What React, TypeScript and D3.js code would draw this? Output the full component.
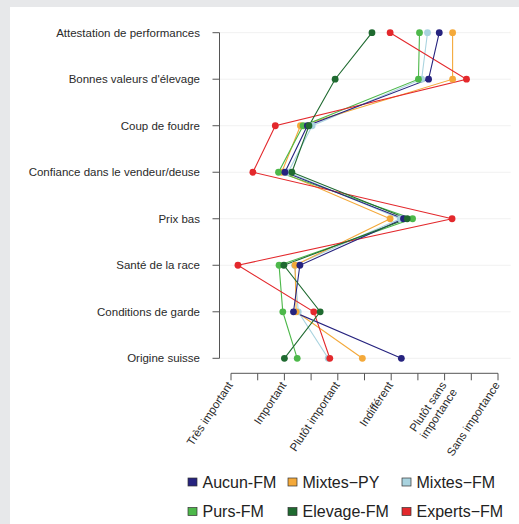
import React from "react";
import * as d3 from "d3";

const categories = [
  "Attestation de performances",
  "Bonnes valeurs d'élevage",
  "Coup de foudre",
  "Confiance dans le vendeur/deuse",
  "Prix bas",
  "Santé de la race",
  "Conditions de garde",
  "Origine suisse",
];

const scaleLabels = [
  ["Très important"],
  ["Important"],
  ["Plutôt important"],
  ["Indifférent"],
  ["Plutôt sans", "importance"],
  ["Sans importance"],
];
const scaleValues = [1, 2, 3, 4, 5, 6];
const tickValues = [1, 1.5, 2, 2.5, 3, 3.5, 4, 4.5, 5, 5.5, 6];

const aucunFM = [4.9, 4.7, 2.43, 2.01, 4.23, 2.29, 2.17, 4.19];
const mixtesPY = [5.15, 5.15, 2.3, 1.95, 3.98, 2.2, 2.22, 3.46];
const mixtesFM = [4.68, 4.57, 2.52, 2.07, 4.17, 2.19, 2.26, 2.82];
const pursFM = [4.53, 4.51, 2.35, 1.89, 4.4, 1.9, 1.97, 2.24];
const elevageFM = [3.64, 2.95, 2.46, 2.14, 4.3, 1.99, 2.67, 2.0];
const expertsFM = [3.98, 5.41, 1.83, 1.41, 5.14, 1.13, 2.55, 2.85];

const seriesNames = ["Aucun-FM", "Mixtes−PY", "Mixtes−FM", "Purs-FM", "Elevage-FM", "Experts−FM"];
const seriesColors = ["#26237f", "#f4a93a", "#a9d3df", "#4db84a", "#1f6a30", "#e3282c"];
const seriesValues = [aucunFM, mixtesPY, mixtesFM, pursFM, elevageFM, expertsFM];
const drawOrder = [2, 1, 3, 5, 0, 4];

export default function App() {
  const W = 519;
  const H = 524;
  const x = d3.scaleLinear().domain([1, 6]).range([231, 498]);
  const y = d3.scalePoint<string>().domain(categories).range([32.7, 358.3]);
  const axisX = 219.5;
  const axisY = 373.3;
  const line = d3
    .line<number>()
    .x((d) => x(d))
    .y((_, i) => y(categories[i]) as number);

  const legendCols = [188, 288, 402];
  const legendRows = [482, 511.5];

  return (
    <svg
      width={W}
      height={H}
      style={{ position: "absolute", left: 0, top: 0, fontFamily: "Liberation Sans, Arial, sans-serif" }}
    >
      <rect x={0} y={0} width={W} height={H} fill="#e7e8ea" />
      <rect x={10} y={7} width={W - 10} height={H - 7} fill="#ffffff" />

      {categories.map((c) => (
        <line key={"g" + c} x1={axisX} x2={510.7} y1={y(c)} y2={y(c)} stroke="#f1f1f1" strokeWidth={1} />
      ))}

      {/* y axis */}
      <line x1={axisX} x2={axisX} y1={y(categories[0])} y2={y(categories[categories.length - 1])} stroke="#555" strokeWidth={1} />
      {categories.map((c) => (
        <g key={"yt" + c}>
          <line x1={axisX - 7} x2={axisX} y1={y(c)} y2={y(c)} stroke="#555" strokeWidth={1} />
          <text x={200} y={y(c)} dy="0.35em" textAnchor="end" fontSize={11.5} fill="#2a2a2a">
            {c}
          </text>
        </g>
      ))}

      {/* x axis */}
      <line x1={x(1)} x2={x(6)} y1={axisY} y2={axisY} stroke="#555" strokeWidth={1} />
      {tickValues.map((t) => (
        <line key={"xt" + t} x1={x(t)} x2={x(t)} y1={axisY} y2={axisY + 7} stroke="#555" strokeWidth={1} />
      ))}
      {scaleValues.map((v, i) => (
        <text
          key={"xl" + v}
          transform={`translate(${x(v) - 1},${axisY + 9.5}) rotate(-56.5)`}
          textAnchor="end"
          fontSize={11.5}
          fill="#2a2a2a"
        >
          {scaleLabels[i].map((s, j) => (
            <tspan key={j} x={0} dy={j === 0 ? "0.35em" : "1.1em"}>
              {s}
            </tspan>
          ))}
        </text>
      ))}

      {/* lines */}
      {drawOrder.map((k) => (
        <path key={"l" + k} d={line(seriesValues[k]) || ""} fill="none" stroke={seriesColors[k]} strokeWidth={1.1} />
      ))}
      {/* points */}
      {drawOrder.map((k) => (
        <g key={"p" + k}>
          {seriesValues[k].map((v, i) => (
            <circle key={i} cx={x(v)} cy={y(categories[i])} r={3.4} fill={seriesColors[k]} />
          ))}
        </g>
      ))}

      {/* legend */}
      {seriesNames.map((n, k) => {
        const cx = legendCols[k % 3];
        const cy = legendRows[Math.floor(k / 3)];
        return (
          <g key={"lg" + n}>
            <rect x={cx} y={cy - 4} width={9} height={8} fill={seriesColors[k]} stroke="#333" strokeWidth={0.7} />
            <text x={cx + 14.5} y={cy} dy="0.36em" fontSize={16} fill="#222">
              {n}
            </text>
          </g>
        );
      })}
    </svg>
  );
}
